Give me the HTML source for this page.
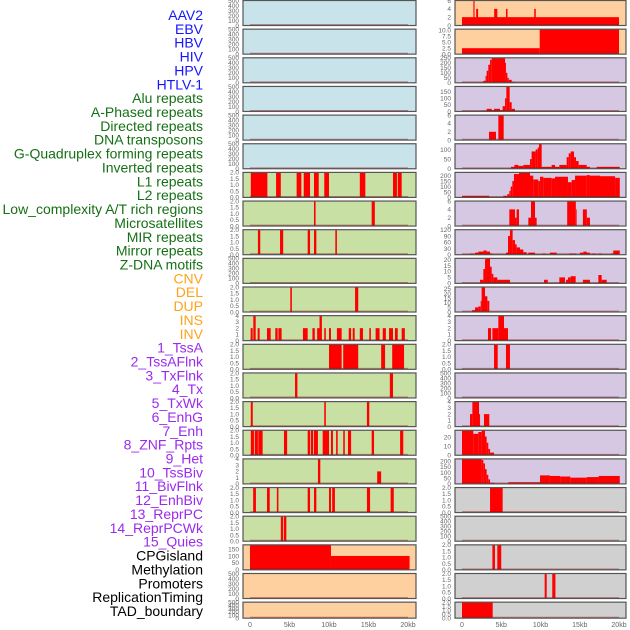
<!DOCTYPE html>
<html><head><meta charset="utf-8"><style>
html,body{margin:0;padding:0;background:#fff;width:630px;height:630px;overflow:hidden}
svg{display:block;font-family:"Liberation Sans",sans-serif}
</style></head><body>
<svg id="chart" width="630" height="630"></svg>
<script>
const trackLabels=["AAV2","EBV","HBV","HIV","HPV","HTLV-1","Alu repeats","A-Phased repeats","Directed repeats","DNA transposons","G-Quadruplex forming repeats","Inverted repeats","L1 repeats","L2 repeats","Low_complexity A/T rich regions","Microsatellites","MIR repeats","Mirror repeats","Z-DNA motifs","CNV","DEL","DUP","INS","INV","1_TssA","2_TssAFlnk","3_TxFlnk","4_Tx","5_TxWk","6_EnhG","7_Enh","8_ZNF_Rpts","9_Het","10_TssBiv","11_BivFlnk","12_EnhBiv","13_ReprPC","14_ReprPCWk","15_Quies","CPGisland","Methylation","Promoters","ReplicationTiming","TAD_boundary"];
const labelGroups=[0,0,0,0,0,0,1,1,1,1,1,1,1,1,1,1,1,1,1,2,2,2,2,2,3,3,3,3,3,3,3,3,3,3,3,3,3,3,3,4,4,4,4,4];
const xTickValues=[0,5,10,15,20];
const xTickLabels=["0","5kb","10kb","15kb","20kb"];
// left column (22 panels)
const leftBg=[0,0,0,0,0,0,1,1,1,1,1,1,1,1,1,1,1,1,1,2,2,2];
const leftYmax=[500,500,500,500,500,500,2,2,2,500,2,4,2,2,2,2,4,2,2,180,500,500];
const leftSegs=[[],[],[],[],[],[],
[[0.1,2.2,2],[3.3,3.9,2],[5.9,6.5,2],[6.8,7.6,2],[8.1,8.7,2],[9.4,10,2],[13.9,14.6,2],[18.1,18.6,2],[18.7,19.2,2]],
[[8.1,8.3,2],[15.4,15.8,2]],
[[1.0,1.3,2],[3.8,4.2,2],[7.3,7.6,2],[8.1,8.4,2],[10.8,11.0,2]],
[],
[[5.1,5.3,2],[13.3,13.7,2]],
[[0.08,0.34,2],[0.42,0.72,4],[0.97,1.22,2],[2.15,2.62,2],[3.2,3.5,2],[3.6,4.0,2],[6.7,7.3,2],[7.9,8.2,2],[8.5,8.8,2],[8.8,9.1,4],[9.4,9.6,2],[10.0,10.25,2],[11.0,11.6,2],[12.5,12.8,2],[13.0,13.25,2],[13.9,14.3,2],[15.1,15.3,2],[15.9,16.4,2],[16.8,17.2,2],[17.6,18.1,2],[18.35,18.7,2],[19.2,19.6,2]],
[[10.0,11.6,2],[11.8,13.7,2],[16.6,17.1,2],[18.0,19.5,2]],
[[5.7,6.0,2],[17.7,18.1,2]],
[[0.1,0.35,2],[9.4,9.6,2],[14.8,15.1,2]],
[[0.1,0.5,2],[0.6,1.0,2],[1.05,1.6,2],[4.3,4.7,2],[7.3,7.6,2],[7.7,8.0,2],[8.1,8.6,2],[9.2,10.0,2],[10.25,10.5,2],[10.9,11.1,2],[11.8,12.0,2],[12.4,12.8,2],[15.4,15.7,2],[19.0,19.4,2]],
[[8.6,8.9,4],[16.1,16.6,2]],
[[0.4,0.75,2],[2.15,2.5,2],[3.4,3.6,2],[7.3,7.6,2],[8.1,8.4,2],[10.0,10.25,2],[10.4,10.75,2],[14.8,15.2,2],[17.8,18.2,2]],
[[3.9,4.2,2],[4.3,4.6,2]],
[[0,10.25,180],[10.25,20.2,100]],
[],[]];
// right column (22 panels)
const rightBg=[2,2,3,3,3,3,3,3,3,3,3,3,3,3,3,3,3,4,4,4,4,4];
const rightYmax=[6,10.5,250,190,6,130,230,6,120,21,27,4,2,500,4,28,220,2,500,2,2,2];
const rightSegs=[
[[0,20,2],[1.45,1.6,6.2],[1.8,2.05,4],[4.1,4.5,4],[5.6,5.8,4],[9.2,9.4,4]],
[[0,9.9,2.5],[9.9,20,10.5]],
[[2.42,2.72,5],[2.72,3.0,20],[3.0,3.14,70],[3.14,3.35,120],[3.35,3.57,180],[3.57,3.78,230],[3.78,5.48,250],[5.48,5.6,200],[5.6,5.78,100],[5.78,5.95,50],[5.95,6.33,30],[6.33,6.75,10]],
[[2.42,3.14,5],[3.14,3.78,20],[3.78,4.08,10],[4.08,4.84,20],[4.84,5.18,10],[5.18,5.48,40],[5.48,5.65,100],[5.65,6.07,190],[6.07,6.33,70],[6.33,6.75,20]],
[[3.44,4.33,2],[4.63,5.31,6]],
[[6.24,6.67,10],[6.67,7.18,20],[7.18,7.81,15],[7.81,8.66,20],[8.66,8.87,50],[8.87,9.38,90],[9.38,9.64,100],[9.64,9.81,110],[9.81,10.15,130],[10.15,11.42,10],[11.42,11.85,20],[11.85,12.4,10],[12.4,13.33,20],[13.33,13.59,60],[13.59,13.84,80],[13.84,14.27,90],[14.27,14.52,60],[14.52,14.86,40],[14.86,15.88,20],[15.88,16.3,10],[17.16,20.1,10]],
[[0,3.48,15],[5.26,5.77,15],[5.77,6.03,30],[6.03,6.2,60],[6.2,6.41,100],[6.41,6.62,150],[6.62,7.26,215],[7.26,8.66,225],[8.66,9.08,200],[9.08,9.72,165],[9.72,9.94,150],[9.94,10.36,190],[10.36,11.42,180],[11.42,11.85,175],[11.85,13.5,190],[13.5,13.97,140],[13.97,14.4,160],[14.4,15.88,200],[15.88,16.3,205],[16.3,17.58,200],[17.58,19.5,195],[19.5,20.1,180]],
[[6.03,6.75,4],[6.75,6.96,2],[6.96,7.26,4],[8.45,8.79,2],[8.79,9.3,6],[9.3,9.51,2],[13.4,14.5,6],[14.5,14.6,4],[15.4,15.9,4],[15.9,16.3,2]],
[[1.02,1.53,5],[1.66,2.08,10],[2.08,2.72,15],[2.72,3.14,20],[3.14,3.57,15],[3.57,3.91,5],[5.6,5.86,10],[5.86,6.11,90],[6.11,6.45,120],[6.45,6.75,70],[6.75,6.96,50],[6.96,7.39,35],[7.39,7.81,25],[7.81,8.24,12],[8.45,9.3,10],[10.24,10.67,5],[11.2,12.07,10],[13.63,14.52,5],[15.03,15.46,10],[15.46,15.88,15],[15.88,16.3,10],[16.5,17.07,5],[17.37,17.79,5],[18.98,19.27,5],[19.27,20.1,20]],
[[2.3,2.72,3],[2.72,2.93,12],[2.93,3.0,20],[3.0,3.57,21],[3.57,3.78,14],[3.78,3.99,8],[3.99,4.5,5],[4.5,6.11,3],[10.45,10.92,3],[12.4,13.12,5],[13.25,13.5,3],[13.5,13.84,5],[13.84,14.48,6],[15.4,16.3,3],[17.37,17.79,7],[17.8,18.43,3]],
[[1.28,1.66,2],[1.66,2.08,5],[2.08,2.38,6],[2.38,2.5,12],[2.5,2.93,27],[2.93,3.23,17],[3.23,3.48,12]],
[[3.31,3.7,2],[3.87,4.63,2],[4.63,5.35,4],[5.35,5.86,2]],
[[4.08,4.55,2],[5.6,6.11,2]],
[],
[[1.02,1.32,2],[1.32,2.17,4],[2.17,2.3,2],[2.8,3.48,2]],
[[0,1.44,28],[1.44,2.08,24],[2.08,2.5,26],[2.5,2.93,28],[2.93,3.14,21],[3.14,3.35,14],[3.35,3.57,7],[3.57,4.08,3]],
[[0,2.5,220],[2.5,2.72,210],[2.72,2.93,180],[2.93,3.14,130],[3.14,3.35,80],[3.35,3.57,40],[3.57,4.08,10],[4.08,4.33,5],[5.6,5.9,5],[5.9,9.94,15],[9.94,11.2,75],[11.2,12.5,70],[12.5,13.8,65],[13.8,15.9,55],[15.9,17.4,60],[17.4,20.1,70]],
[[3.57,5.18,2]],
[],
[[3.87,4.2,2],[4.5,5.0,2]],
[[10.53,10.79,2],[11.5,11.9,2]],
[[0,3.91,2]]];
const tickSets={500:[0,100,200,300,400,500],2:[0,0.5,1,1.5,2],4:[0,1,2,3,4],6:[0,2,4,6],180:[0,50,100,150],10.5:[0,2.5,5,7.5,10],250:[0,50,100,150,200,250],190:[0,50,100,150],130:[0,50,100],230:[0,50,100,150,200],120:[0,30,60,90,120],21:[0,5,10,15,20],27:[0,5,10,15,20,25],28:[0,10,20],220:[0,50,100,150,200]};
const bgColors=["#c8e3ea","#c9e0a5","#fed09f","#d6c7e3","#d0d0d0"];
const labelColors=["#1515ff","#157015","#ffa31a","#9a2bee","#000000"];

const NS="http://www.w3.org/2000/svg";
const svg=document.getElementById('chart');
function mk(t,a,p){const e=document.createElementNS(NS,t);for(const k in a)e.setAttribute(k,a[k]);(p||svg).appendChild(e);return e;}
const rowPitch=28.65;
function rowTop(i){return 0.5+i*rowPitch;}
function rowH(i){return i===21?16:25;}
function fmt(v,ymax){if(ymax===2||ymax===10.5)return v.toFixed(1);return String(v);}

// labels
trackLabels.forEach((t,i)=>{
  const el=mk('text',{x:203,y:20+i*13.86,'text-anchor':'end','font-size':'14px',fill:labelColors[labelGroups[i]]});
  el.textContent=t;
  
  
});

function drawColumn(col,px0,px1,dx0,dx1,bgIdx,ymaxArr,segsArr,tickX){
  const xs=kb=>dx0+(kb/20)*(dx1-dx0);
  for(let i=0;i<22;i++){
    const top=rowTop(i),h=rowH(i),bottom=top+h,ymax=ymaxArr[i];
    const ys=v=>bottom-(v/ymax)*h;
    const g=mk('g',{});
    
    
    mk('rect',{x:px0,y:top,width:px1-px0,height:h,fill:bgColors[bgIdx[i]]},g);
    segsArr[i].forEach((s,j)=>{
      const r=mk('rect',{x:xs(s[0]),y:ys(Math.min(s[2],ymax)),width:Math.max(0.8,xs(s[1])-xs(s[0])),height:bottom-ys(Math.min(s[2],ymax)),fill:'#ff0000'},g);
      
      
    });
    mk('line',{x1:xs(0),x2:xs(20),y1:bottom-0.8,y2:bottom-0.8,stroke:'rgba(150,0,0,0.45)','stroke-width':1.2},g);
    mk('rect',{x:px0,y:top,width:px1-px0,height:h,fill:'none',stroke:'#555','stroke-width':1.2},g);
    const ticks=tickSets[ymax]||[0,ymax];
    ticks.forEach(v=>{
      const tl=mk('text',{x:tickX,y:ys(v)+2.3,'text-anchor':'end','font-size':'6.5px',fill:'#666'},g);
      tl.textContent=fmt(v,ymax);
      
      
    });
  }
  xTickValues.forEach((v,k)=>{
    const t=mk('text',{x:xs(v),y:627,'text-anchor':'middle','font-size':'7px',fill:'#666'});
    t.textContent=xTickLabels[k];
    
    
  });
}
drawColumn('left',243,416,250,408,leftBg,leftYmax,leftSegs,239);
drawColumn('right',455,626,462,619,rightBg,rightYmax,rightSegs,451);
</script>
</body></html>
